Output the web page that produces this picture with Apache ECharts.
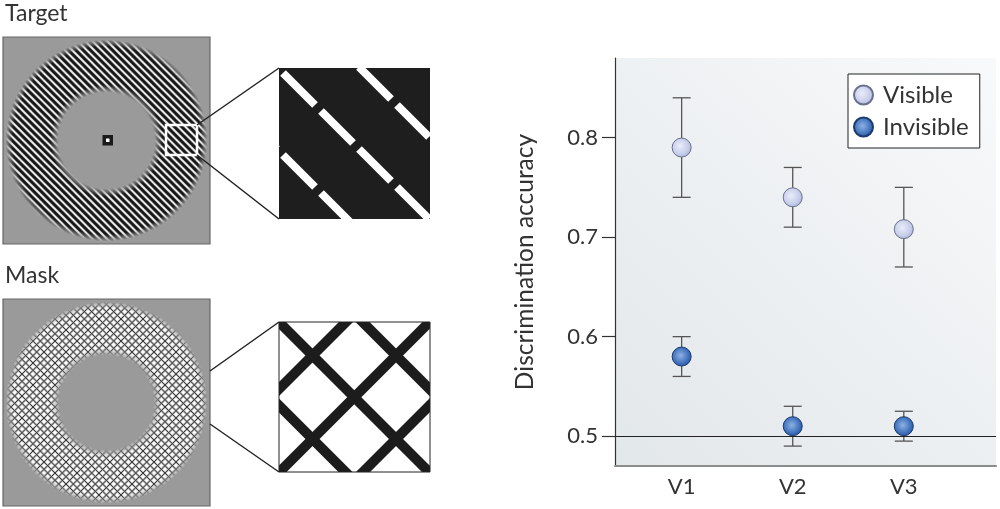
<!DOCTYPE html>
<html><head><meta charset="utf-8">
<script src="https://cdn.jsdelivr.net/npm/echarts@6/dist/echarts.min.js"></script>
<style>html,body{margin:0;padding:0;background:#fff}#c{width:1000px;height:509px}</style>
</head><body><div id="c"></div>
<script>
// ---------- data ----------
const categories = ['V1', 'V2', 'V3'];
const visibleMean = [0.79, 0.74, 0.708];
const visibleLow = [0.74, 0.71, 0.67];
const visibleHigh = [0.84, 0.77, 0.75];
const invisibleMean = [0.58, 0.51, 0.51];
const invisibleLow = [0.56, 0.49, 0.495];
const invisibleHigh = [0.60, 0.53, 0.525];
const yTicks = [0.5, 0.6, 0.7, 0.8];
const chanceLevel = 0.5;
const seriesNames = ['Visible', 'Invisible'];
const panelTitles = ['Target', 'Mask'];
const yTitle = 'Discrimination accuracy';

const FONT = 'Lato, "Open Sans", sans-serif';
const GRAY = '#9a9a9a';

// ---------- illustration helpers ----------
function stripeTile() {
  const T = 22, n = 3, c = document.createElement('canvas');
  c.width = T; c.height = T;
  const g = c.getContext('2d');
  g.fillStyle = '#161616'; g.fillRect(0, 0, T, T);
  for (const [col, w] of [['#5a5a5a', 3.0], ['#f4f4f4', 1.7]]) {
    g.strokeStyle = col; g.lineWidth = w;
    for (let k = -n; k <= 2 * n; k++) {
      const c0 = k * T / n;
      g.beginPath(); g.moveTo(-T, -T + c0); g.lineTo(2 * T, 2 * T + c0); g.stroke();
    }
  }
  return c;
}
function hatchTile() {
  const T = 22, n = 3, c = document.createElement('canvas');
  c.width = T; c.height = T;
  const g = c.getContext('2d');
  g.fillStyle = '#ffffff'; g.fillRect(0, 0, T, T);
  for (const [col, w] of [['#b5b5b5', 2.2], ['#3a3a3a', 1.0]]) {
    g.strokeStyle = col; g.lineWidth = w;
    for (let k = -n; k <= 3 * n; k++) {
      const c0 = k * T / n;
      g.beginPath(); g.moveTo(-T, -T + c0); g.lineTo(2 * T, 2 * T + c0); g.stroke();
      g.beginPath(); g.moveTo(-T, c0 + T); g.lineTo(2 * T, c0 - 2 * T); g.stroke();
    }
  }
  return c;
}
// Liang-Barsky clip of a segment to a rectangle
function clip(x1, y1, x2, y2, xmin, ymin, xmax, ymax) {
  let t0 = 0, t1 = 1; const dx = x2 - x1, dy = y2 - y1;
  const p = [-dx, dx, -dy, dy], q = [x1 - xmin, xmax - x1, y1 - ymin, ymax - y1];
  for (let i = 0; i < 4; i++) {
    if (p[i] === 0) { if (q[i] < 0) return null; }
    else {
      const r = q[i] / p[i];
      if (p[i] < 0) { if (r > t1) return null; if (r > t0) t0 = r; }
      else { if (r < t0) return null; if (r < t1) t1 = r; }
    }
  }
  return [x1 + t0 * dx, y1 + t0 * dy, x1 + t1 * dx, y1 + t1 * dy];
}
function fadeGradient(R, r0, r1) {
  const a = (v) => 'rgba(154,154,154,' + v + ')';
  return {
    type: 'radial', x: 0.5, y: 0.5, r: 0.5,
    colorStops: [
      { offset: 0, color: a(1) }, { offset: (r0 - 3) / R, color: a(1) },
      { offset: (r0 + 5) / R, color: a(0) }, { offset: (r1 - 7) / R, color: a(0) },
      { offset: r1 / R, color: a(1) }, { offset: 1, color: a(1) }
    ]
  };
}
function frame(x0, y0, w, h) {
  const t = 12, s = { fill: '#fff' };
  return [
    { type: 'rect', shape: { x: x0 - t, y: y0 - t, width: w + 2 * t, height: t }, style: s },
    { type: 'rect', shape: { x: x0 - t, y: y0 + h, width: w + 2 * t, height: t }, style: s },
    { type: 'rect', shape: { x: x0 - t, y: y0, width: t, height: h }, style: s },
    { type: 'rect', shape: { x: x0 + w, y: y0, width: t, height: h }, style: s }
  ];
}
function seg(x1, y1, x2, y2, color, w) {
  return { type: 'line', shape: { x1, y1, x2, y2 }, style: { stroke: color, lineWidth: w, lineCap: 'butt' } };
}

const G = [];
// ----- Target panel -----
const tBox = { x: 3, y: 37, w: 207, h: 207 }, tc = [106.5, 140.5];
G.push({ type: 'text', left: 5, top: 2, style: { text: panelTitles[0], fontSize: 23, fontFamily: FONT, fill: '#333' } });
G.push({ type: 'rect', shape: { x: tBox.x, y: tBox.y, width: tBox.w, height: tBox.h }, style: { fill: GRAY } });
G.push({ type: 'ring', shape: { cx: tc[0], cy: tc[1], r: 101, r0: 48 }, style: { fill: { image: stripeTile(), repeat: 'repeat' } } });
G.push({ type: 'circle', shape: { cx: tc[0], cy: tc[1], r: 103 }, style: { fill: fadeGradient(103, 51, 101) } });
G.push({ type: 'rect', shape: { x: tBox.x, y: tBox.y, width: tBox.w, height: tBox.h }, style: { fill: null, stroke: '#666', lineWidth: 1.2 } });
G.push({ type: 'rect', shape: { x: 102.5, y: 135, width: 10.5, height: 10.5 }, style: { fill: '#1a1a1a' } });
G.push({ type: 'rect', shape: { x: 106, y: 138.5, width: 3.5, height: 3.5 }, style: { fill: '#fff' } });
G.push({ type: 'rect', shape: { x: 166, y: 125, width: 31, height: 30 }, style: { fill: null, stroke: '#fff', lineWidth: 2.5 } });
// zoomed target
const tz = { x: 279, y: 68, w: 151, h: 151 };
G.push({ type: 'rect', shape: { x: tz.x, y: tz.y, width: tz.w, height: tz.h }, style: { fill: '#1e1e1e' } });
[-292, -210, -128].forEach(c => {
  for (let k = -3; k <= 5; k++) {
    const xa = 283 + 38 * k, xb = xa + 32;
    const s = clip(xa, xa + c, xb, xb + c, tz.x - 6, tz.y - 6, tz.x + tz.w + 6, tz.y + tz.h + 6);
    if (s) G.push(seg(s[0], s[1], s[2], s[3], '#fff', 8));
  }
});
frame(tz.x, tz.y, tz.w, tz.h).forEach(f => G.push(f));
G.push(seg(197, 125, 279, 68, '#222', 1.5));
G.push(seg(197, 155, 279, 219, '#222', 1.5));

// ----- Mask panel -----
const mBox = { x: 3, y: 299, w: 207, h: 207 }, mc = [106.5, 402.5];
G.push({ type: 'text', left: 5, top: 264, style: { text: panelTitles[1], fontSize: 23, fontFamily: FONT, fill: '#333' } });
G.push({ type: 'rect', shape: { x: mBox.x, y: mBox.y, width: mBox.w, height: mBox.h }, style: { fill: GRAY } });
G.push({ type: 'ring', shape: { cx: mc[0], cy: mc[1], r: 101, r0: 47 }, style: { fill: { image: hatchTile(), repeat: 'repeat' } } });
G.push({ type: 'circle', shape: { cx: mc[0], cy: mc[1], r: 103 }, style: { fill: fadeGradient(103, 50, 101) } });
G.push({ type: 'rect', shape: { x: mBox.x, y: mBox.y, width: mBox.w, height: mBox.h }, style: { fill: null, stroke: '#666', lineWidth: 1.2 } });
// zoomed mask
const mz = { x: 279, y: 322, w: 151, h: 150 };
G.push({ type: 'rect', shape: { x: mz.x, y: mz.y, width: mz.w, height: mz.h }, style: { fill: '#fff' } });
const P = 83.5;
[-P, 0, P, -2 * P, 2 * P].forEach(c => {        // "\" lines: v - u = c
  const s = clip(mz.x - 200, mz.y - 200 + c, mz.x + 400, mz.y + 400 + c, mz.x - 6, mz.y - 6, mz.x + mz.w + 6, mz.y + mz.h + 6);
  if (s) G.push(seg(s[0], s[1], s[2], s[3], '#1c1c1c', 10));
});
[67 - P, 67, 67 + P, 67 + 2 * P, 67 + 3 * P].forEach(k => { // "/" lines: u + v = k
  const s = clip(mz.x - 200, mz.y + k + 200, mz.x + 400, mz.y + k - 400, mz.x - 6, mz.y - 6, mz.x + mz.w + 6, mz.y + mz.h + 6);
  if (s) G.push(seg(s[0], s[1], s[2], s[3], '#1c1c1c', 10));
});
frame(mz.x, mz.y, mz.w, mz.h).forEach(f => G.push(f));
G.push({ type: 'rect', shape: { x: mz.x, y: mz.y, width: mz.w, height: mz.h }, style: { fill: null, stroke: '#222', lineWidth: 1 } });
G.push(seg(210, 371, 279, 322, '#222', 1.5));
G.push(seg(210, 424, 279, 472, '#222', 1.5));

// ---------- chart ----------
const visGrad = { type: 'radial', x: 0.42, y: 0.42, r: 0.6,
  colorStops: [{ offset: 0, color: '#e9ecf8' }, { offset: 0.7, color: '#c6cdea' }, { offset: 1, color: '#aab3d6' }] };
const invGrad = { type: 'radial', x: 0.45, y: 0.45, r: 0.6,
  colorStops: [{ offset: 0, color: '#8fb1e3' }, { offset: 0.6, color: '#4677c0' }, { offset: 1, color: '#24509a' }] };

function errRender(params, api) {
  const x = api.value(0), lo = api.value(1), hi = api.value(2);
  const a = api.coord([x, lo]), b = api.coord([x, hi]);
  const w = 9, st = { stroke: '#555', lineWidth: 1.3, fill: null };
  return { type: 'group', children: [
    { type: 'line', shape: { x1: a[0], y1: a[1], x2: b[0], y2: b[1] }, style: st },
    { type: 'line', shape: { x1: a[0] - w, y1: a[1], x2: a[0] + w, y2: a[1] }, style: st },
    { type: 'line', shape: { x1: b[0] - w, y1: b[1], x2: b[0] + w, y2: b[1] }, style: st }
  ] };
}

const chart = echarts.init(document.getElementById('c'), null, { renderer: 'canvas' });
chart.setOption({
  animation: false,
  backgroundColor: '#fff',
  graphic: G,
  grid: {
    left: 615, right: 4, top: 58, bottom: 43, show: true, borderWidth: 0,
    backgroundColor: { type: 'linear', x: 0, y: 1, x2: 1, y2: 0,
      colorStops: [{ offset: 0, color: '#e2e7ea' }, { offset: 1, color: '#f8f9fa' }] }
  },
  legend: {
    data: seriesNames, orient: 'vertical', left: 848, top: 74, icon: 'circle',
    itemWidth: 19, itemHeight: 19, itemGap: 6, padding: [8, 11, 8, 5],
    backgroundColor: '#fff', borderColor: '#222', borderWidth: 1, borderRadius: 0,
    textStyle: { fontSize: 24, lineHeight: 26, fontFamily: FONT, color: '#333', padding: [0, 0, 0, 5] }
  },
  xAxis: {
    type: 'value', min: 0.4, max: 3.83,
    axisLine: { show: true, lineStyle: { color: '#8c8c8c', width: 2 } },
    axisTick: { show: false },
    splitLine: { show: false },
    axisLabel: { customValues: [1, 2, 3], formatter: v => categories[Math.round(v) - 1] || '',
      fontSize: 22, fontFamily: FONT, color: '#333', margin: 10 }
  },
  yAxis: {
    type: 'value', min: 0.47, max: 0.88,
    name: yTitle, nameLocation: 'middle', nameGap: 77, nameRotate: 90,
    nameTextStyle: { fontSize: 24.5, fontFamily: FONT, color: '#333' },
    axisLine: { show: true, lineStyle: { color: '#333', width: 1.2 } },
    axisTick: { show: true, customValues: yTicks, length: 13, lineStyle: { color: '#333', width: 1.2 } },
    axisLabel: { customValues: yTicks, formatter: v => v.toFixed(1), fontSize: 22, fontFamily: FONT, color: '#333', margin: 17 },
    splitLine: { show: false }
  },
  series: [
    { type: 'custom', name: 'errV', renderItem: errRender, z: 3, silent: true,
      data: categories.map((c, i) => [i + 1, visibleLow[i], visibleHigh[i]]) },
    { type: 'custom', name: 'errI', renderItem: errRender, z: 3, silent: true,
      data: categories.map((c, i) => [i + 1, invisibleLow[i], invisibleHigh[i]]) },
    { type: 'scatter', name: seriesNames[0], z: 5, symbolSize: 19,
      itemStyle: { color: visGrad, borderColor: '#6a718c', borderWidth: 1, opacity: 1 },
      data: categories.map((c, i) => [i + 1, visibleMean[i]]) },
    { type: 'scatter', name: seriesNames[1], z: 5, symbolSize: 19,
      itemStyle: { color: invGrad, borderColor: '#1b3a6e', borderWidth: 1, opacity: 1 },
      data: categories.map((c, i) => [i + 1, invisibleMean[i]]),
      markLine: { silent: true, symbol: 'none', label: { show: false },
        lineStyle: { color: '#222', width: 1.2, type: 'solid' }, data: [{ yAxis: chanceLevel }] } }
  ]
});
</script></body></html>
